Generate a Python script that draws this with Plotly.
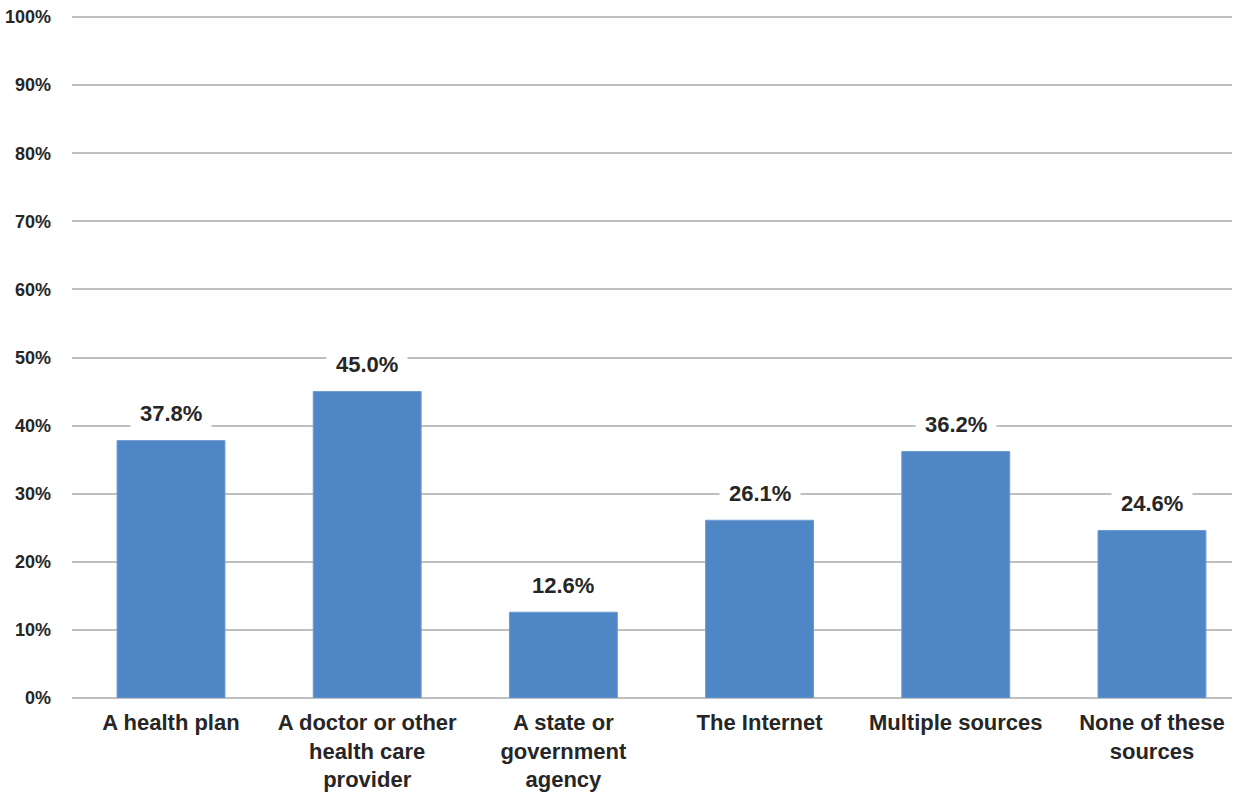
import plotly.graph_objects as go

categories = ["A health plan", "A doctor or other<br>health care<br>provider", "A state or<br>government<br>agency",
              "The Internet", "Multiple sources", "None of these<br>sources"]
values = [37.8, 45.0, 12.6, 26.1, 36.2, 24.6]
y_ticks = [0, 10, 20, 30, 40, 50, 60, 70, 80, 90, 100]
y_tick_labels = [f"{t}%" for t in y_ticks]

FONT = "Liberation Sans Narrow, Arial Narrow, Liberation Sans, Arial, sans-serif"
TXT = "#262626"

fig = go.Figure(go.Bar(
    x=list(range(len(categories))), y=values,
    marker=dict(color="#4F86C6", line=dict(color="#6F9BD2", width=1)),
    width=0.55, hoverinfo="skip",
))

for i, v in enumerate(values):
    fig.add_annotation(x=i, y=v, xref="x", yref="y", text=f"<b>{v:.1f}%</b>",
                       showarrow=False, yanchor="middle", yshift=27,
                       bgcolor="white", borderpad=9,
                       font=dict(family=FONT, size=22, color=TXT))

fig.update_layout(
    width=1234, height=799,
    margin=dict(l=72, r=2, t=16, b=101),
    paper_bgcolor="white", plot_bgcolor="white",
    showlegend=False,
    font=dict(family=FONT, color=TXT),
    xaxis=dict(
        range=[-0.5046, 5.408],
        tickmode="array", tickvals=list(range(len(categories))),
        ticktext=[f"<b>{c}</b>" for c in categories],
        tickfont=dict(family=FONT, size=22, color=TXT),
        showgrid=False, zeroline=False, showline=False, ticks="",
        ticklabelstandoff=9,
        automargin=False,
    ),
    yaxis=dict(
        range=[0, 100.15],
        tickmode="array", tickvals=y_ticks,
        ticktext=[f"<b>{t}</b>" for t in y_tick_labels],
        tickfont=dict(family=FONT, size=18, color=TXT),
        showgrid=True, gridcolor="#BFBFBF", gridwidth=1.6,
        zeroline=True, zerolinecolor="#BFBFBF", zerolinewidth=1.6,
        showline=False, ticks="",
        ticklabelstandoff=20,
        ticklabeloverflow="allow",
        automargin=False,
    ),
)

fig.write_html("out.html", config={"displayModeBar": False},
               post_script="document.body.style.margin='0';")
